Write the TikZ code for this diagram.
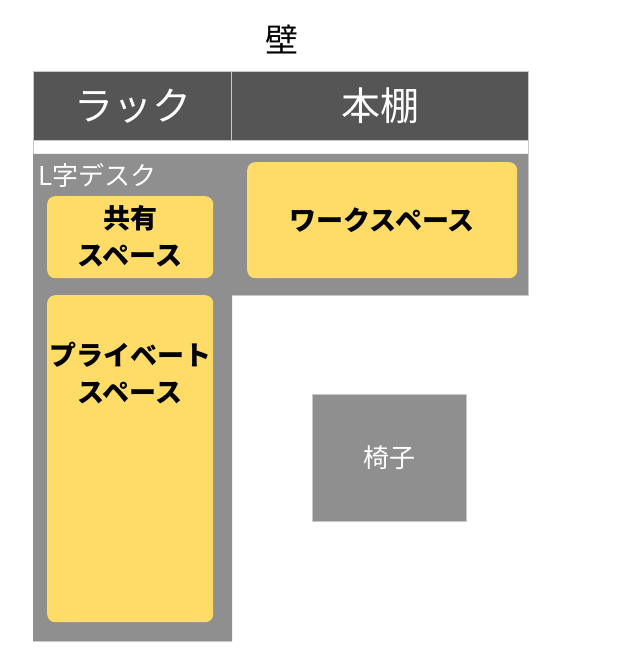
\documentclass[tikz,border=0pt]{standalone}
\usepackage{fontspec}
\setmainfont{Noto Sans CJK JP}
\definecolor{hdr}{HTML}{555555}
\definecolor{desk}{HTML}{8F8F8F}
\definecolor{yel}{HTML}{FFDC68}
\definecolor{edge}{HTML}{C8C8C8}
\begin{document}
\begin{tikzpicture}[x=1pt,y=-1pt,
  zone/.style={fill=yel,rounded corners=8pt},
  ztext/.style={font=\fontsize{27}{37}\selectfont\bfseries,align=center,text=black},
  wtext/.style={text=white,inner sep=0pt}]
\useasboundingbox (0,0) rectangle (629,663);
% wall label
\node[font=\fontsize{33}{33}\selectfont] (wall) at (282,40) {壁};
% header
\fill[hdr] (33,71) rectangle (528,140);
\draw[edge,line width=0.6pt] (33,71) rectangle (528,140);
\draw[edge,line width=0.6pt] (231.5,71) -- (231.5,140);
\node[wtext,font=\fontsize{39}{39}\selectfont] (rack) at (132.5,106) {ラック};
\node[wtext,font=\fontsize{39}{39}\selectfont] (shelf) at (380,106) {本棚};
% white gap with thin border
\draw[edge,line width=0.6pt] (33,140) -- (33,154) (528,140) -- (528,154);
% L desk
\fill[desk] (33,154) -- (528,154) -- (528,295) -- (232,295) -- (232,641) -- (33,641) -- cycle;
\draw[edge,line width=0.6pt] (528,154) -- (528,295) -- (232,295) (33,641) -- (232,641);
\node[wtext,anchor=west,font=\fontsize{26}{26}\selectfont] (ldesk) at (38,175) {L字デスク};
% zones
\node[zone,minimum width=166pt,minimum height=82pt,anchor=north west] (shared) at (47,196) {};
\node[ztext] at ([yshift=1pt]shared.center) {共有\\スペース};
\node[zone,minimum width=166pt,minimum height=327pt,anchor=north west] (private) at (47,295) {};
\node[ztext,anchor=north] at (130,339) {プライベート\\スペース};
\node[zone,minimum width=270pt,minimum height=116pt,anchor=north west] (work) at (247,162) {};
\node[ztext] at (work.center) {ワークスペース};
% chair
\node[fill=desk,draw=edge,line width=0.6pt,minimum width=154pt,minimum height=127pt,anchor=north west] (chair) at (312,394) {};
\node[wtext,font=\fontsize{26}{26}\selectfont] at (chair.center) {椅子};
\end{tikzpicture}
\end{document}
